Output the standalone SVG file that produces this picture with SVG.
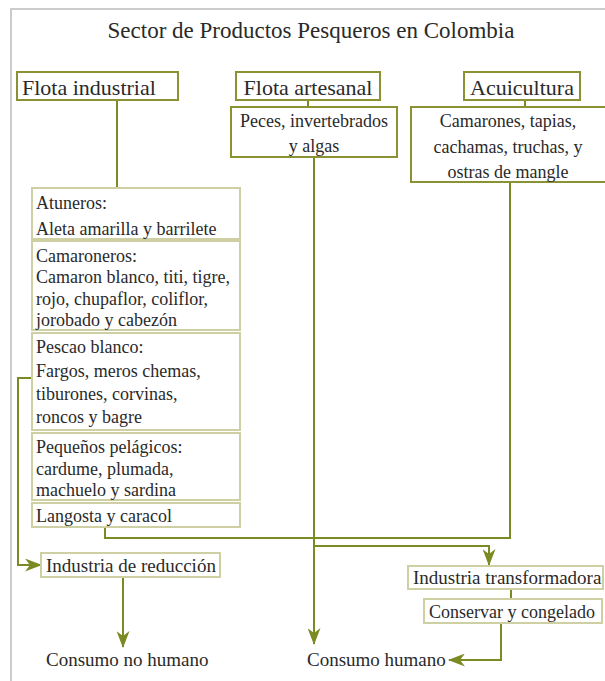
<svg xmlns="http://www.w3.org/2000/svg" width="605" height="681" viewBox="0 0 605 681">
<style>
text{font-family:"Liberation Serif","Times New Roman",serif;fill:#2a2a2a;font-size:18px}
.big{font-size:22px}
.title{font-size:23px}
.lg{font-size:19px}
.mid{text-anchor:middle}
.top{fill:#fff;stroke:#8b9234;stroke-width:2}
.sub{fill:#fff;stroke:#cfcfa4;stroke-width:2}
.con{fill:none;stroke:#7b8a22;stroke-width:2}
.frame{fill:none;stroke:#cccccc;stroke-width:2}
</style>
<defs>
<marker id="ah" markerUnits="userSpaceOnUse" markerWidth="17" markerHeight="13" viewBox="0 0 17 13" refX="16" refY="6.5" orient="auto">
<path d="M0,0 L17,6.5 L0,13 L5,6.5 Z" fill="#7b8a22"/>
</marker>
</defs>
<rect width="605" height="681" fill="#fff"/>
<path class="frame" d="M11,681 V9 H605"/>
<text class="title mid" x="311" y="38">Sector de Productos Pesqueros en Colombia</text>

<g id="connectors">
<path class="con" d="M117,100 V188"/>
<path class="con" d="M308,100 V107"/>
<path class="con" d="M525,100 V107"/>
<path class="con" d="M314,157 V644" marker-end="url(#ah)"/>
<path class="con" d="M105,527 V538 H510 V182"/>
<path class="con" d="M314,546 H489 V565" marker-end="url(#ah)"/>
<path class="con" d="M511,589 V599"/>
<path class="con" d="M501,623 V660 H449" marker-end="url(#ah)"/>
<path class="con" d="M32,378 H18 V565 H41" marker-end="url(#ah)"/>
<path class="con" d="M123,577 V647" marker-end="url(#ah)"/>
</g>

<g id="flota-industrial">
<rect class="top" x="17" y="72" width="161" height="28"/>
<text class="big" x="22" y="95">Flota industrial</text>
</g>
<g id="flota-artesanal">
<rect class="top" x="236" y="72" width="144" height="28"/>
<text class="big mid" x="308" y="95">Flota artesanal</text>
</g>
<g id="acuicultura">
<rect class="top" x="464" y="72" width="116" height="28"/>
<text class="big mid" x="522" y="95">Acuicultura</text>
</g>
<g id="peces">
<rect class="top" x="231" y="107" width="166" height="50"/>
<text class="mid" x="314" y="127">Peces, invertebrados</text>
<text class="mid" x="314" y="152">y algas</text>
</g>
<g id="camarones">
<rect class="top" x="411" y="107" width="200" height="75"/>
<text class="mid" x="508" y="127">Camarones, tapias,</text>
<text class="mid" x="508" y="153">cachamas, truchas, y</text>
<text class="mid" x="508" y="178">ostras de mangle</text>
</g>
<g id="atuneros">
<rect class="sub" x="32" y="188" width="208" height="51"/>
<text x="36" y="209">Atuneros:</text>
<text x="36" y="235">Aleta amarilla y barrilete</text>
</g>
<g id="camaroneros">
<rect class="sub" x="32" y="241" width="208" height="89"/>
<text x="36" y="262">Camaroneros:</text>
<text x="36" y="283">Camaron blanco, titi, tigre,</text>
<text x="36" y="305">rojo, chupaflor, coliflor,</text>
<text x="36" y="326">jorobado y cabezón</text>
</g>
<g id="pescao-blanco">
<rect class="sub" x="32" y="333" width="208" height="97"/>
<text x="36" y="353">Pescao blanco:</text>
<text x="36" y="377">Fargos, meros chemas,</text>
<text x="36" y="400">tiburones, corvinas,</text>
<text x="36" y="423">roncos y bagre</text>
</g>
<g id="pequenos-pelagicos">
<rect class="sub" x="32" y="433" width="208" height="67"/>
<text x="36" y="453">Pequeños pelágicos:</text>
<text x="36" y="475">cardume, plumada,</text>
<text x="36" y="496">machuelo y sardina</text>
</g>
<g id="langosta">
<rect class="sub" x="32" y="503" width="208" height="24"/>
<text x="36" y="522">Langosta y caracol</text>
</g>
<g id="industria-reduccion">
<rect class="sub" x="41" y="553" width="179" height="24"/>
<text class="lg" x="46" y="572">Industria de reducción</text>
</g>
<g id="industria-transformadora">
<rect class="sub" x="408" y="566" width="195" height="23"/>
<text class="lg" x="413" y="584">Industria transformadora</text>
</g>
<g id="conservar">
<rect class="sub" x="424" y="599" width="178" height="24"/>
<text x="429" y="618">Conservar y congelado</text>
</g>
<g id="consumo-no-humano">
<text class="lg" x="46" y="666">Consumo no humano</text>
</g>
<g id="consumo-humano">
<text class="lg" x="307" y="666">Consumo humano</text>
</g>
</svg>
